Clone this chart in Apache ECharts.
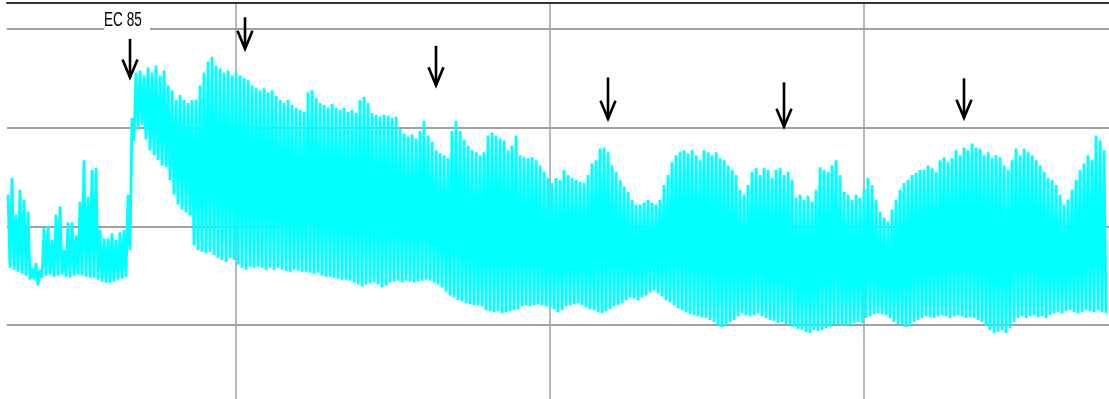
<!DOCTYPE html>
<html><head><meta charset="utf-8">
<script src="https://cdn.jsdelivr.net/npm/echarts@6/dist/echarts.min.js"></script>
<style>html,body{margin:0;padding:0;background:#fff}#c{width:1109px;height:399px}</style>
</head><body><div id="c"></div>
<script>
// sample index of the first point, relative to the first vertical grid line
const firstSample = -114;
// upper turning points of the trace (one every 2 samples)
const peaks = [
132,149,112,137,127,115,58,63,56,98,100,86,112,120,76,104,104,91,125,167,130,157,159,96,88,88,93,86,94,96,132,210,
256,258,253,261,256,263,253,258,243,238,228,233,228,
225,228,228,243,256,267,272,263,260,256,258,253,256,253,250,248,243,240,238,240,236,238,232,228,225,228,223,220,218,216,236,238,230,225,223,220,224,220,218,220,216,218,215,228,231,225,
215,213,211,213,212,210,211,199,194,191,193,189,197,207,192,186,177,174,172,169,197,207,197,188,182,177,175,172,175,192,195,192,189,187,177,182,192,172,170,169,170,167,162,155,149,144,
149,147,157,152,149,147,145,144,152,164,167,179,180,175,162,155,147,140,135,127,122,122,124,127,124,122,127,142,152,165,172,175,177,174,177,172,167,177,175,172,175,169,167,162,157,152,
137,132,142,155,159,152,159,157,149,157,159,152,155,147,129,132,127,131,125,137,160,157,155,162,167,152,135,132,127,132,129,137,149,142,127,115,109,105,117,127,137,144,147,152,154,157,
157,162,159,155,167,170,165,169,177,172,180,177,184,180,179,172,175,169,172,170,162,157,167,179,172,179,175,172,167,162,155,149,147,142,132,122,127,137,147,157,164,172,167,192,187,177
];
// lower turning points of the trace
const troughs = [
58,56,54,52,50,46,46,40,48,50,51,49,50,51,49,48,50,51,50,49,48,48,46,44,43,43,44,46,47,49,76,187,
198,203,188,177,172,167,162,160,147,132,122,117,114,
111,81,76,74,73,74,71,68,66,64,68,66,61,58,56,59,58,59,58,56,58,56,58,56,55,54,56,55,54,54,53,52,53,50,49,49,48,47,46,46,45,43,41,39,41,42,
43,41,38,40,43,44,45,43,45,44,43,44,45,46,45,43,41,38,34,30,28,25,24,22,21,20,20,19,15,14,13,14,12,13,14,15,16,19,20,19,20,21,20,19,18,16,
13,15,19,20,21,22,20,18,16,15,13,12,14,16,19,20,22,25,28,27,25,28,30,33,35,32,29,25,23,20,17,15,13,11,10,9,8,7,5,3,0,-2,0,3,5,9,
12,10,9,10,12,9,7,5,4,2,3,1,0,-2,-4,-5,-7,-8,-5,-6,-5,-3,-2,0,1,-1,0,0,2,3,2,7,9,11,12,11,10,7,3,1,0,-2,0,3,5,7,
9,8,7,9,10,9,7,9,10,9,7,8,7,5,3,-1,-5,-8,-7,-5,-8,-3,3,7,9,7,9,10,8,9,7,10,12,13,12,14,15,13,12,13,15,14,13,15,13,12
];
// event markers (arrows)
const eventX = [-53, 4.5, 100, 186, 274, 364];
const eventTop = [290, 312, 283, 251, 246, 250];
const eventTip = [251, 280, 243, 209, 201, 210];
const eventLabels = ['EC 85', '', '', '', '', ''];
// axis ranges and grid steps
const xMin = -114.5, xMax = 436.5, xStep = 157;
const yMin = -75, yMax = 326.4, yStep = 100;

const trace = [];
for (let i = 0; i < peaks.length; i++) {
  trace.push([firstSample + 2 * i, peaks[i]]);
  trace.push([firstSample + 2 * i + 1, troughs[i]]);
}
const events = eventX.map((x, i) => [x, eventTop[i], eventTip[i]]);

const chart = echarts.init(document.getElementById('c'), null, {renderer: 'canvas'});
chart.setOption({
  animation: false,
  backgroundColor: '#ffffff',
  grid: {left: 7, right: 0, top: 3, bottom: 0, containLabel: false},
  xAxis: {
    type: 'value', position: 'top', min: xMin, max: xMax,
    minInterval: xStep, maxInterval: xStep,
    axisLine: {show: true, onZero: false, lineStyle: {color: '#333333', width: 2}},
    axisTick: {show: false}, axisLabel: {show: false},
    splitLine: {show: true, showMinLine: false, showMaxLine: false, lineStyle: {color: '#a0a0a0', width: 1.5}}
  },
  yAxis: {
    type: 'value', min: yMin, max: yMax,
    minInterval: yStep, maxInterval: yStep,
    axisLine: {show: false}, axisTick: {show: false}, axisLabel: {show: false},
    splitLine: {show: true, showMinLine: false, showMaxLine: false, lineStyle: {color: '#a0a0a0', width: 2}}
  },
  series: [
    {
      type: 'line', data: trace, showSymbol: false, symbol: 'none', sampling: null,
      lineStyle: {color: '#00ffff', width: 2.8, join: 'bevel'}, silent: true, z: 2
    },
    {
      type: 'custom', data: events, clip: false, z: 5, silent: true,
      renderItem: function (params, api) {
        const x = api.value(0);
        const p1 = api.coord([x, api.value(1)]);
        const p2 = api.coord([x, api.value(2)]);
        const children = [
          {type: 'line', shape: {x1: p1[0], y1: p1[1], x2: p2[0], y2: p2[1]}, style: {stroke: '#000', lineWidth: 2.6}},
          {type: 'polyline', shape: {points: [[p2[0] - 7.5, p2[1] - 18], [p2[0], p2[1]], [p2[0] + 7.5, p2[1] - 18]]},
            style: {stroke: '#000', lineWidth: 2.6, fill: null}}
        ];
        const lab = eventLabels[params.dataIndex];
        if (lab) {
          children.push({
            type: 'text', x: p1[0] - 26, y: p1[1] - 18, scaleX: 0.68, z2: 10,
            style: {text: lab, fill: '#000', fontSize: 20, fontFamily: 'Liberation Sans, Arial, sans-serif',
              align: 'left', verticalAlign: 'middle', backgroundColor: '#ffffff', padding: [2, 12, 2, 0]}
          });
        }
        return {type: 'group', children: children};
      }
    }
  ]
});
</script></body></html>
